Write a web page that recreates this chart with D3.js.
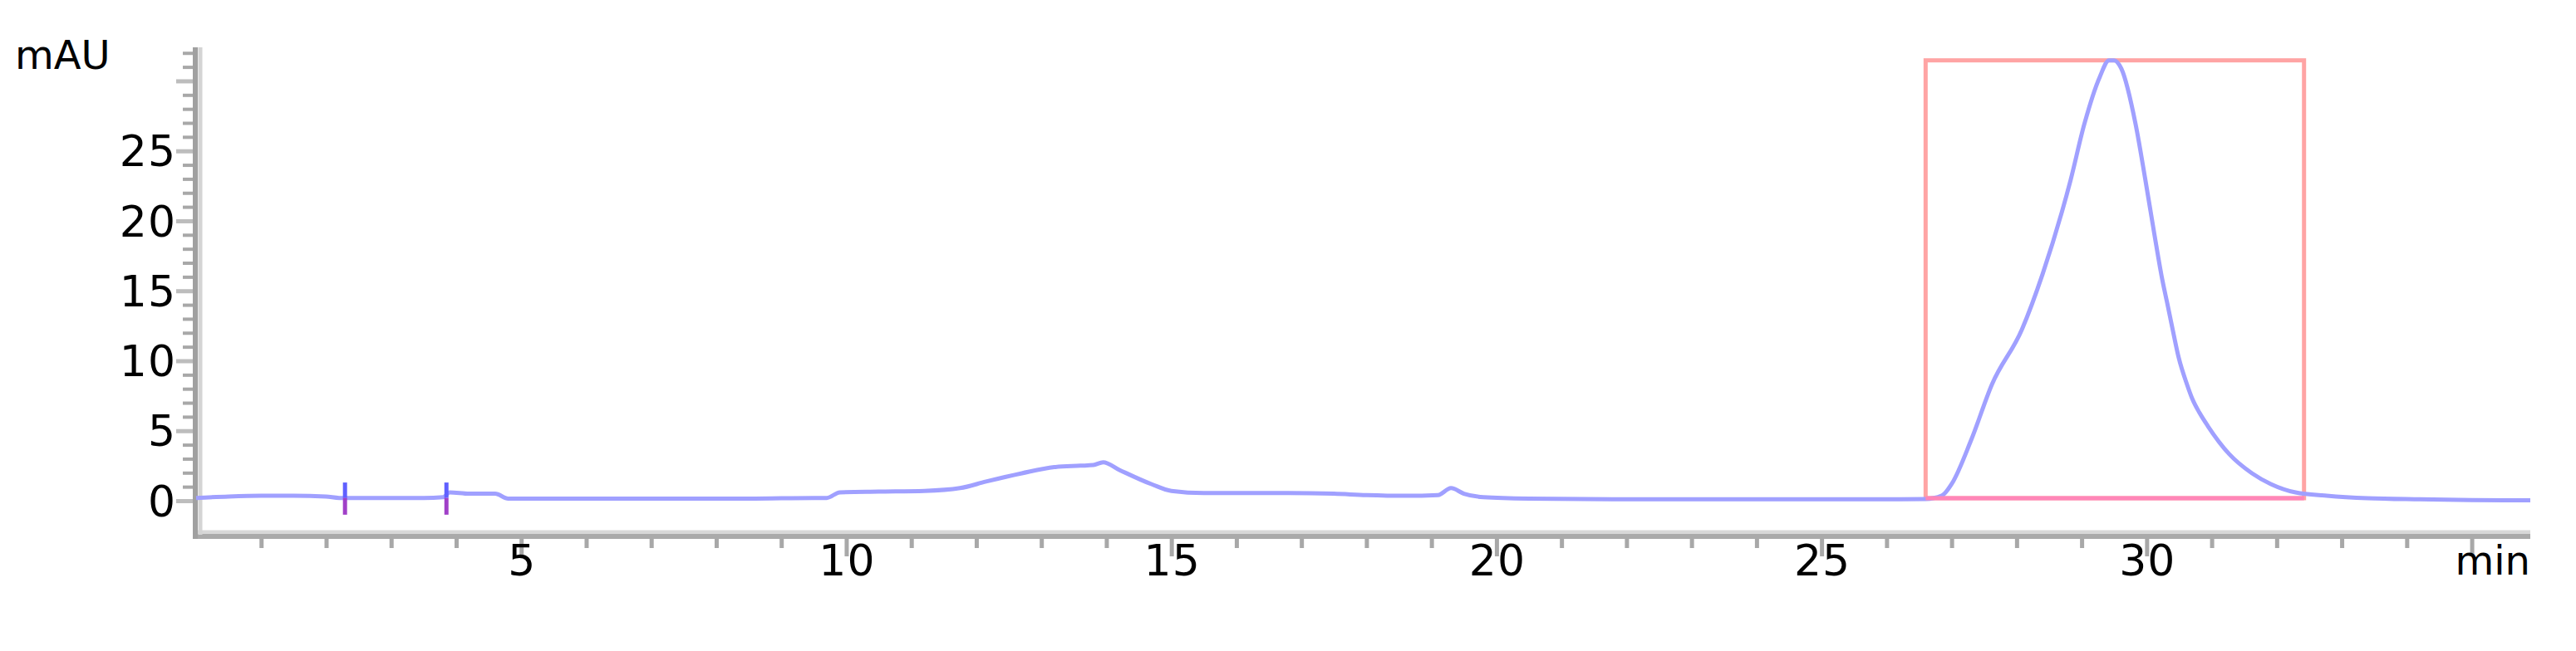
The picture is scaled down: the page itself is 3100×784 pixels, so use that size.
<!DOCTYPE html>
<html>
<head>
<meta charset="utf-8">
<script src="https://cdn.jsdelivr.net/npm/d3@7/dist/d3.min.js"></script>
<style>
  html, body { margin: 0; padding: 0; background: #fff; }
  svg { display: block; }
  .lbl { font-family: "DejaVu Sans", Verdana, sans-serif; font-size: 52px; letter-spacing: 1px; fill: #000; }
  .unit { font-family: "DejaVu Sans", Verdana, sans-serif; font-size: 48px; fill: #000; }
</style>
</head>
<body>
<script>
// retention time (min) and absorbance (mAU)
var times = [0, 0.5, 1.0, 1.5, 2.0, 2.2, 2.4, 3.0, 3.5, 3.8, 3.9, 4.2, 4.6, 4.8, 5.5, 6.5, 7.5, 8.5, 9.5, 9.7,
             9.9, 10.5, 11.2, 11.75, 12.15, 12.7, 13.2, 13.6, 13.8, 13.95, 14.2, 14.7, 15.0, 15.5, 16.0, 16.8,
             17.5, 18.0, 18.6, 19.1, 19.3, 19.5, 19.8, 20.5, 22, 24, 26, 26.6, 26.85, 27.0, 27.3, 27.62,
             28.08, 28.4, 28.83, 29.04, 29.28, 29.42, 29.5, 29.61, 29.83, 29.98, 30.12, 30.24, 30.31, 30.40,
             30.49, 30.62, 30.70, 30.81, 30.94, 31.27, 31.62, 31.91, 32.29, 32.77, 33.4, 34.2, 35.0, 35.9];
var mau = [0.2, 0.3, 0.35, 0.35, 0.3, 0.2, 0.2, 0.2, 0.2, 0.25, 0.6, 0.5, 0.5, 0.15, 0.15, 0.15, 0.15, 0.15, 0.2, 0.2,
           0.6, 0.65, 0.7, 0.9, 1.37, 1.96, 2.4, 2.5, 2.55, 2.75, 2.2, 1.17, 0.7, 0.55, 0.55, 0.55,
           0.5, 0.4, 0.35, 0.4, 0.9, 0.5, 0.25, 0.15, 0.1, 0.1, 0.1, 0.12, 0.36, 1.19, 4.33, 8.31,
           12.23, 16.21, 22.92, 26.9, 30.3, 31.47, 31.47, 30.88, 26.9, 22.92, 19.0, 15.8, 14.25, 12.23,
           10.27, 8.31, 7.3, 6.3, 5.34, 3.33, 1.96, 1.19, 0.59, 0.36, 0.18, 0.1, 0.05, 0.03];

// integration events
var eventTimes = [2.29, 3.85];

// peak box: start/end time, bottom/top mAU
var boxTimes = [26.6, 32.42];
var boxLevels = [0.18, 31.47];

var xMajor = [5, 10, 15, 20, 25, 30, 35];
var xLabels = ["5", "10", "15", "20", "25", "30"];
var yMajor = [0, 5, 10, 15, 20, 25, 30];
var yLabels = ["0", "5", "10", "15", "20", "25"];
var xUnit = "min", yUnit = "mAU";

var W = 3100, H = 784;
var axisX = 238, axisY = 644;

var x = d3.scaleLinear().domain([0, 35.9]).range([236, 3045]);
var y = d3.scaleLinear().domain([0, 32.4]).range([603, 57]);

var svg = d3.select("body").append("svg")
    .attr("width", W)
    .attr("height", H);

svg.append("rect").attr("width", W).attr("height", H).attr("fill", "#fff");

// ---- x axis ----
var xMinorAxis = d3.axisBottom(x)
    .tickValues(d3.range(1, 36).filter(function(d) { return d % 5 !== 0; }))
    .tickSize(16).tickSizeOuter(0).tickFormat("");
var xMajorAxis = d3.axisBottom(x)
    .tickValues(xMajor)
    .tickSize(26).tickSizeOuter(0).tickFormat("");

var gxMinor = svg.append("g").attr("transform", "translate(0," + axisY + ")").call(xMinorAxis);
var gxMajor = svg.append("g").attr("transform", "translate(0," + axisY + ")").call(xMajorAxis);
[gxMinor, gxMajor].forEach(function(g) {
  g.select(".domain").remove();
  g.selectAll(".tick line").attr("stroke", "#a8a8a8").attr("stroke-width", 5);
});

// ---- y axis ----
var yMinorAxis = d3.axisLeft(y)
    .tickValues(d3.range(1, 33).filter(function(d) { return d % 5 !== 0; }))
    .tickSize(18).tickSizeOuter(0).tickFormat("");
var yMajorAxis = d3.axisLeft(y)
    .tickValues(yMajor)
    .tickSize(26).tickSizeOuter(0).tickFormat("");

var gyMinor = svg.append("g").attr("transform", "translate(" + axisX + ",0)").call(yMinorAxis);
var gyMajor = svg.append("g").attr("transform", "translate(" + axisX + ",0)").call(yMajorAxis);
gyMinor.select(".domain").remove();
gyMajor.select(".domain").remove();
gyMinor.selectAll(".tick line").attr("stroke", "#a8a8a8").attr("stroke-width", 4);
gyMajor.selectAll(".tick line").attr("stroke", "#bdbdbd").attr("stroke-width", 5);

// axis lines (two-tone)
svg.append("line").attr("x1", axisX - 6).attr("x2", x.range()[1]).attr("y1", axisY - 3).attr("y2", axisY - 3)
    .attr("stroke", "#d8d8d8").attr("stroke-width", 5);
svg.append("line").attr("x1", axisX - 6).attr("x2", x.range()[1]).attr("y1", axisY + 2).attr("y2", axisY + 2)
    .attr("stroke", "#aaaaaa").attr("stroke-width", 6);
svg.append("line").attr("x1", axisX + 3).attr("x2", axisX + 3).attr("y1", y.range()[1]).attr("y2", axisY)
    .attr("stroke", "#d4d4d4").attr("stroke-width", 5);
svg.append("line").attr("x1", axisX - 3).attr("x2", axisX - 3).attr("y1", y.range()[1]).attr("y2", axisY + 5)
    .attr("stroke", "#a0a0a0").attr("stroke-width", 6);

// tick labels
svg.append("g").selectAll("text").data(xLabels).enter().append("text")
    .attr("class", "lbl")
    .attr("x", function(d) { return x(+d) + 1; })
    .attr("y", 693)
    .attr("text-anchor", "middle")
    .text(function(d) { return d; });

svg.append("g").selectAll("text").data(yLabels).enter().append("text")
    .attr("class", "lbl")
    .attr("x", 212)
    .attr("y", function(d) { return y(+d); })
    .attr("dy", "0.36em")
    .attr("text-anchor", "end")
    .text(function(d) { return d; });

svg.append("text").attr("class", "unit")
    .attr("x", 3045).attr("y", 692).attr("text-anchor", "end").text(xUnit);
svg.append("text").attr("class", "unit")
    .attr("x", 18).attr("y", 83).text(yUnit);

// ---- peak box ----
svg.append("rect")
    .attr("x", x(boxTimes[0]))
    .attr("y", y(boxLevels[1]))
    .attr("width", x(boxTimes[1]) - x(boxTimes[0]))
    .attr("height", y(boxLevels[0]) - y(boxLevels[1]))
    .attr("fill", "none")
    .attr("stroke", "#ffa4a4")
    .attr("stroke-width", 5);

// ---- trace ----
var data = times.map(function(t, i) { return [t, mau[i]]; });
var line = d3.line()
    .x(function(d) { return x(d[0]); })
    .y(function(d) { return y(d[1]); })
    .curve(d3.curveMonotoneX);

svg.append("path")
    .datum(data)
    .attr("fill", "none")
    .attr("stroke", "#a0a0ff")
    .attr("stroke-width", 5)
    .attr("stroke-linejoin", "round")
    .attr("d", line);

// baseline of the box drawn over the trace
svg.append("line")
    .attr("x1", x(boxTimes[0])).attr("x2", x(boxTimes[1]))
    .attr("y1", y(boxLevels[0])).attr("y2", y(boxLevels[0]))
    .attr("stroke", "#ff86b8").attr("stroke-width", 5);

// event marks
var ev = svg.append("g").selectAll("g").data(eventTimes).enter().append("g");
ev.append("line")
    .attr("x1", function(d) { return x(d); }).attr("x2", function(d) { return x(d); })
    .attr("y1", y(1.3)).attr("y2", y(0.2))
    .attr("stroke", "#6060ff").attr("stroke-width", 5);
ev.append("line")
    .attr("x1", function(d) { return x(d); }).attr("x2", function(d) { return x(d); })
    .attr("y1", y(0.2)).attr("y2", y(-1.0))
    .attr("stroke", "#a040c8").attr("stroke-width", 5);
</script>
</body>
</html>
